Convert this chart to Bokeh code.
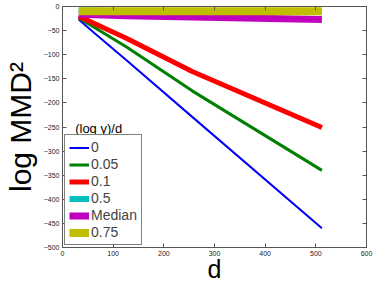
from bokeh.plotting import figure
from bokeh.models import (LinearAxis, FixedTicker, Legend, LegendItem, Label,
                          Range1d)
from bokeh.embed import file_html
from bokeh.resources import INLINE

# ---- data -------------------------------------------------------------
d = [32, 64, 128, 256, 512]
g_0 = [-27, -56, -113, -229, -460]
g_005 = [-24, -44, -85, -175, -340]
g_01 = [-20, -36, -67, -135, -251]
g_05 = [-9, -9, -10, -10, -10]
g_median = [-16, -17, -19, -22, -27]
g_075 = [-10, -10, -10, -10, -10]

series_names = ["0", "0.05", "0.1", "0.5", "Median", "0.75"]
series_values = [g_0, g_005, g_01, g_05, g_median, g_075]
x_ticks = [0, 100, 200, 300, 400, 500, 600]
y_ticks = [-500, -450, -400, -350, -300, -250, -200, -150, -100, -50, 0]
x_label = "d"
y_label = "log MMD²"
legend_title = "(log γ)/d"

# ---- styles -----------------------------------------------------------
colors = ["#0000ff", "#008000", "#ff0000", "#00bfbf", "#bf00bf", "#bfbf00"]
widths = [2, 3, 5, 6, 7, 8]
FONT = "Liberation Sans"

p = figure(width=374, height=285, x_range=Range1d(0, 600),
           y_range=Range1d(-500, 0), output_backend="svg",
           toolbar_location=None, min_border_left=60, min_border_right=8,
           min_border_top=6, min_border_bottom=38)
p.grid.visible = False
p.outline_line_color = "#333333"
p.background_fill_color = "white"

for ax in (p.xaxis[0], p.yaxis[0]):
    ax.major_tick_in = 4
    ax.major_tick_out = 0
    ax.minor_tick_in = 0
    ax.minor_tick_out = 0
    ax.axis_line_color = "#555555"
    ax.major_tick_line_color = "#555555"
    ax.major_label_text_font_size = "7px"
    ax.major_label_text_font = FONT
    ax.major_label_text_color = "#222222"
    ax.axis_label_text_font = FONT
    ax.axis_label_text_font_style = "normal"
    ax.axis_label_text_color = "black"

p.xaxis[0].ticker = FixedTicker(ticks=x_ticks)
p.yaxis[0].ticker = FixedTicker(ticks=y_ticks)
p.xaxis[0].major_label_standoff = 3
p.yaxis[0].major_label_standoff = 3
p.xaxis[0].axis_label = x_label
p.xaxis[0].axis_label_text_font_size = "25px"
p.xaxis[0].axis_label_standoff = -4
p.yaxis[0].axis_label = y_label
p.yaxis[0].axis_label_text_font_size = "30px"
p.yaxis[0].axis_label_standoff = 4

for loc, tk in (("right", y_ticks), ("above", x_ticks)):
    ax = LinearAxis(ticker=FixedTicker(ticks=tk), major_label_text_font_size="1px",
                    major_label_text_color=None,
                    major_label_standoff=0, major_tick_in=4, major_tick_out=0,
                    minor_tick_in=0, minor_tick_out=0,
                    axis_line_color="#555555", major_tick_line_color="#555555")
    p.add_layout(ax, loc)

items = []
for name, vals, c, w in zip(series_names, series_values, colors, widths):
    r = p.line(d, vals, line_color=c, line_width=w)
    items.append(LegendItem(label=name, renderers=[r]))

legend = Legend(items=items, location="bottom_left", border_line_color="black",
                border_line_width=1, label_text_font_size="14px",
                label_text_font=FONT, glyph_width=20, glyph_height=15,
                label_height=15, spacing=1, padding=4, margin=2,
                label_standoff=2, background_fill_alpha=1.0)
p.add_layout(legend)

p.add_layout(Label(x=25, y=-253, text=legend_title, text_font_size="13px",
                   text_font=FONT, text_baseline="middle", text_color="black"))

open("out.html", "w").write(file_html(p, INLINE))
